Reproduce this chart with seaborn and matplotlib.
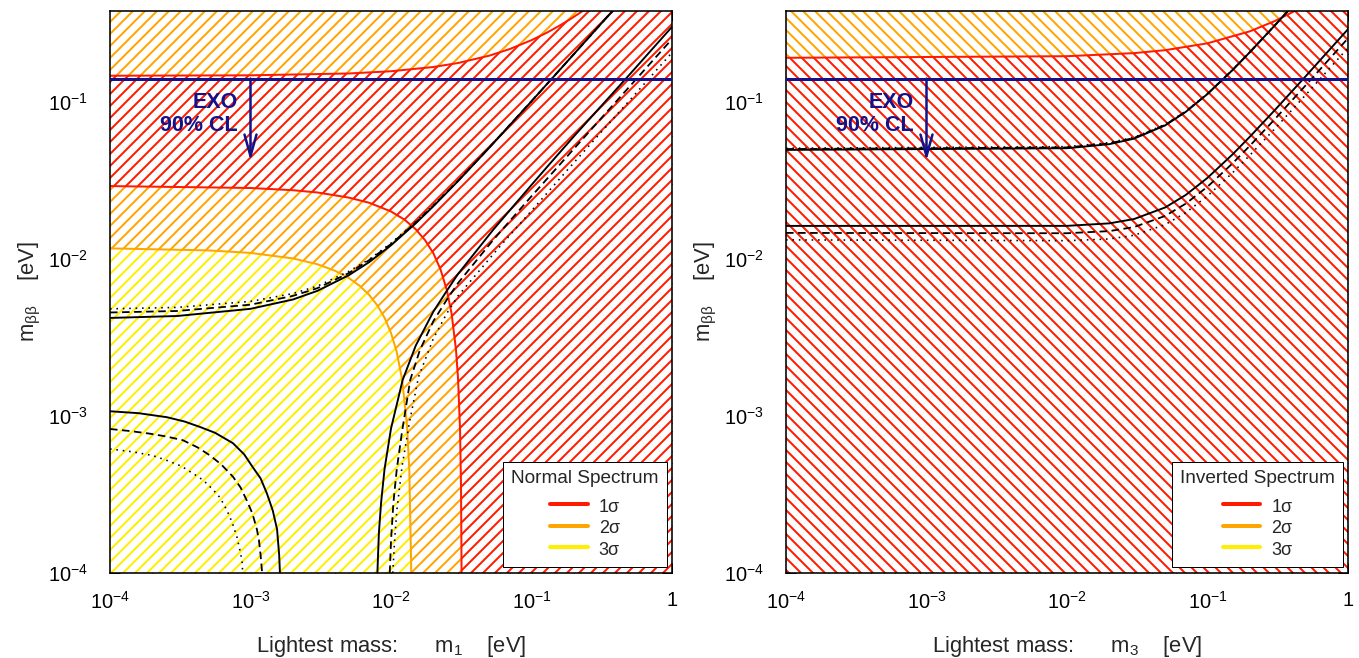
import matplotlib
matplotlib.use("Agg")
import matplotlib.pyplot as plt
from matplotlib.lines import Line2D
from matplotlib.ticker import NullFormatter
import seaborn as sns

# ---------------- data ----------------
x_range = [1e-4, 1.0]
y_range = [1e-4, 0.38]
x_ticks = [1e-4, 1e-3, 1e-2, 1e-1, 1.0]
x_tick_labels = [r"$10^{-4}$", r"$10^{-3}$", r"$10^{-2}$", r"$10^{-1}$", "1"]
y_ticks = [1e-4, 1e-3, 1e-2, 1e-1]
y_tick_labels = [r"$10^{-4}$", r"$10^{-3}$", r"$10^{-2}$", r"$10^{-1}$"]

exo_limit = 0.14
exo_arrow_x = 1e-3
exo_arrow_tip = 0.042
exo_text_x = 8.15e-4
exo_text_y = [0.0912, 0.0651]
exo_text = ["EXO", "90% CL"]

sigma_labels = ["1\u03c3", "2\u03c3", "3\u03c3"]

# Normal spectrum: confidence-region boundaries
ns_red_top_m = [1e-4, 1e-3, 5e-3, 0.01, 0.02, 0.03, 0.05, 0.07, 0.1, 0.13, 0.16, 0.19, 0.22, 0.24]
ns_red_top_y = [0.1461, 0.147, 0.151, 0.156, 0.166, 0.176, 0.196, 0.216, 0.246, 0.276, 0.306, 0.336, 0.366, 0.386]

ns_red_mid_m = [1e-4, 1e-3, 2e-3, 3e-3, 5e-3, 7e-3, 0.01, 0.0125, 0.015, 0.0175, 0.02, 0.0225,
                0.025, 0.027, 0.029, 0.030, 0.031, 0.0315, 0.03179]
ns_red_mid_y = [0.0290, 0.0282, 0.0273, 0.0264, 0.0245, 0.0227, 0.0200, 0.0177, 0.0154, 0.0131,
                0.01086, 0.00857, 0.00629, 0.00447, 0.00265, 0.00173, 0.00082, 0.00036, 0.0001]

ns_orange_m = [1e-4, 5e-4, 1e-3, 2e-3, 3e-3, 4e-3, 5e-3, 6e-3, 7e-3, 8e-3, 9e-3, 0.010,
               0.011, 0.012, 0.013, 0.0135, 0.0139, 0.01392]
ns_orange_y = [0.01164, 0.0113, 0.01089, 0.01005, 0.00922, 0.00838, 0.00755, 0.00671, 0.00588,
               0.00504, 0.00421, 0.00337, 0.00254, 0.0017, 0.00087, 0.00045, 0.00012, 0.0001]

# Normal spectrum: m_bb band edges (solid / dashed / dotted)
ns_up_m = [1e-4, 3e-4, 1e-3, 2e-3, 3e-3, 5e-3, 7e-3, 0.01, 0.015, 0.02, 0.03, 0.05, 0.1, 0.2, 0.5, 1.0]
ns_up_solid = [0.0042, 0.00432, 0.0048, 0.0055, 0.00625, 0.00785, 0.00952, 0.01218, 0.0168,
               0.02155, 0.0312, 0.0508, 0.1005, 0.2003, 0.5, 1.0]
ns_up_dashed = [0.00455, 0.00465, 0.0051, 0.0058, 0.0065, 0.0081, 0.0098, 0.0124, 0.0170,
                0.0217, 0.0313, 0.0510, 0.1006, 0.2003, 0.5, 1.0]
ns_up_dotted = [0.0048, 0.0049, 0.00535, 0.0060, 0.0067, 0.0083, 0.0099, 0.01256, 0.0172,
                0.0219, 0.0314, 0.0511, 0.1006, 0.2003, 0.5, 1.0]

ns_lowA_solid_m = [1e-4, 1.6e-4, 2.55e-4, 3.4e-4, 4.37e-4, 5.6e-4, 7.5e-4, 9e-4, 1.04e-3, 1.18e-3,
                   1.31e-3, 1.44e-3, 1.545e-3, 1.6e-3, 1.62e-3]
ns_lowA_solid_y = [0.00107, 0.00104, 0.00098, 0.00092, 0.00085, 0.00078, 0.00067, 0.00057, 0.00047,
                   0.0004, 0.00032, 0.00025, 0.00019, 0.00013, 0.0001]
ns_lowA_dashed_m = [1e-4, 1.4e-4, 1.93e-4, 2.5e-4, 3.3e-4, 4.2e-4, 5.15e-4, 6.2e-4, 7.5e-4, 8.5e-4,
                    9.4e-4, 1.03e-3, 1.11e-3, 1.15e-3, 1.18e-3, 1.21e-3]
ns_lowA_dashed_y = [0.000825, 0.0008, 0.00077, 0.00074, 0.0007, 0.00063, 0.00056, 0.00049, 0.00041,
                    0.00035, 0.00029, 0.00024, 0.00019, 0.00016, 0.00013, 0.0001]
ns_lowA_dotted_m = [1e-4, 1.46e-4, 2e-4, 2.55e-4, 3.2e-4, 3.9e-4, 4.6e-4, 5.4e-4, 6.1e-4, 6.8e-4,
                    7.4e-4, 8.0e-4, 8.4e-4, 8.7e-4, 8.8e-4]
ns_lowA_dotted_y = [0.000616, 0.00059, 0.00056, 0.00052, 0.00048, 0.00043, 0.00039, 0.00034, 0.0003,
                    0.00025, 0.00021, 0.00017, 0.00014, 0.00012, 0.0001]

ns_lowB_solid_m = [0.0080, 0.0082, 0.0085, 0.009, 0.010, 0.0121, 0.015, 0.020, 0.0251, 0.030,
                   0.0534, 0.1, 0.136, 0.2, 0.5, 1.0]
ns_lowB_solid_y = [1.0e-4, 1.8e-4, 2.8e-4, 4.6e-4, 8.3e-4, 0.00169, 0.0028, 0.0046, 0.0063, 0.0080,
                   0.0153, 0.0295, 0.0405, 0.060, 0.149, 0.299]
ns_lowB_dashed_m = [0.0098, 0.0100, 0.0104, 0.011, 0.012, 0.0137, 0.016, 0.020, 0.025, 0.030,
                    0.0535, 0.1, 0.2, 0.5, 1.0]
ns_lowB_dashed_y = [1.0e-4, 1.6e-4, 2.8e-4, 4.6e-4, 8.0e-4, 0.00169, 0.0026, 0.0040, 0.0055, 0.0070,
                    0.0132, 0.0250, 0.0500, 0.125, 0.25]
ns_lowB_dotted_m = [0.0103, 0.0106, 0.011, 0.012, 0.0135, 0.0157, 0.020, 0.025, 0.030, 0.0568,
                    0.1, 0.2, 0.5, 1.0]
ns_lowB_dotted_y = [1.0e-4, 1.6e-4, 2.5e-4, 4.8e-4, 9.0e-4, 0.00177, 0.0031, 0.0045, 0.0058, 0.0114,
                    0.0202, 0.0408, 0.102, 0.205]

# Inverted spectrum
ih_red_top_m = [1e-4, 0.01, 0.03, 0.05, 0.1, 0.2, 0.3, 0.4, 0.43]
ih_red_top_y = [0.19, 0.1945, 0.2035, 0.2125, 0.235, 0.28, 0.325, 0.37, 0.3835]

ih_m = [1e-4, 0.01, 0.02, 0.03, 0.05, 0.07, 0.1, 0.15, 0.2, 0.3, 0.4]
ih_up_solid = [0.04927, 0.0505, 0.0536, 0.0581, 0.0706, 0.086, 0.1118, 0.1581, 0.2062, 0.3041, 0.4031]
ih_up_dashed = [0.0499, 0.0511, 0.0542, 0.0587, 0.0711, 0.0864, 0.1121, 0.1583, 0.2063, 0.3042, 0.4031]
ih_up_dotted = [0.0505, 0.0517, 0.0548, 0.0592, 0.0716, 0.0868, 0.1124, 0.1585, 0.2064, 0.3043, 0.4031]

ih_low_m = [1e-4, 0.01, 0.02, 0.03, 0.05, 0.07, 0.1, 0.15, 0.2, 0.3, 0.5, 1.0]
ih_low_solid = [0.01618, 0.01619, 0.01679, 0.01789, 0.0212, 0.02545, 0.03272, 0.04594, 0.05972,
                0.08791, 0.14507, 0.2889]
ih_low_dashed = [0.0146, 0.01453, 0.01499, 0.0159, 0.01873, 0.02241, 0.02873, 0.04027, 0.0523,
                 0.07695, 0.12694, 0.2528]
ih_low_dotted = [0.01318, 0.01303, 0.01336, 0.0141, 0.01649, 0.01964, 0.02509, 0.03508, 0.04553,
                 0.06693, 0.11037, 0.2197]

# ---------------- style ----------------
RED = "#ff1a00"
ORANGE = "#ffa500"
YELLOW = "#fff000"
NAVY = "#12128a"

sns.set_theme(style="ticks")
plt.rcParams.update({
    "font.family": ["Liberation Sans", "DejaVu Sans"],
    "mathtext.fontset": "custom",
    "mathtext.rm": "Liberation Sans",
    "mathtext.it": "Liberation Sans:italic",
    "mathtext.bf": "Liberation Sans:bold",
    "mathtext.default": "regular",
    "hatch.linewidth": 2.0,
    "axes.linewidth": 1.6,
    "axes.edgecolor": "black",
    "axes.facecolor": "white",
    "xtick.color": "black", "ytick.color": "black",
    "xtick.direction": "in", "ytick.direction": "in",
    "xtick.top": True, "ytick.right": True,
    "xtick.major.size": 10, "ytick.major.size": 10,
    "xtick.minor.size": 5, "ytick.minor.size": 5,
    "xtick.major.width": 1.0, "ytick.major.width": 1.0,
    "xtick.minor.width": 1.0, "ytick.minor.width": 1.0,
    "xtick.labelsize": 20, "ytick.labelsize": 20,
})

W, H, DPI = 1359, 658, 72
fig = plt.figure(figsize=(W / DPI, H / DPI), dpi=DPI)
ax_l = fig.add_axes([110 / W, (H - 573) / H, 562 / W, 562.5 / H])
ax_r = fig.add_axes([786 / W, (H - 573) / H, 562 / W, 562.5 / H])


def hatch_region(ax, xs, ys, color, hatch):
    ax.fill(xs, ys, facecolor="white", edgecolor=color, hatch=hatch, linewidth=0, zorder=1)


def curve(ax, xs, ys, color, ls="-", lw=2.0, z=3):
    sns.lineplot(x=xs, y=ys, ax=ax, color=color, linestyle=ls, linewidth=lw,
                 sort=False, estimator=None, zorder=z, legend=False)


DASH = (0, (4.2, 2.5))
DOT = (0, (1.0, 3.0))

x0, x1 = x_range
y0, y1 = y_range

# ---- Normal spectrum ----
ax = ax_l
ax.set_xscale("log")
ax.set_yscale("log")
hatch_region(ax, [x0, x1, x1, x0], [y0, y0, y1, y1], RED, "//")
hatch_region(ax, ns_red_mid_m + [x0], ns_red_mid_y + [y0], ORANGE, "//")
hatch_region(ax, ns_orange_m + [x0], ns_orange_y + [y0], YELLOW, "//")
hatch_region(ax, ns_red_top_m + [x0], ns_red_top_y + [1.0], ORANGE, "//")
curve(ax, ns_red_top_m, ns_red_top_y, RED, z=2)
curve(ax, ns_red_mid_m, ns_red_mid_y, RED, z=2)
curve(ax, ns_orange_m, ns_orange_y, ORANGE, z=2)

curve(ax, ns_up_m, ns_up_solid, "black", lw=1.9)
curve(ax, ns_up_m, ns_up_dashed, "black", ls=DASH, lw=1.8)
curve(ax, ns_up_m, ns_up_dotted, "black", ls=DOT, lw=1.6)
curve(ax, ns_lowA_solid_m, ns_lowA_solid_y, "black", lw=1.9)
curve(ax, ns_lowA_dashed_m, ns_lowA_dashed_y, "black", ls=DASH, lw=1.8)
curve(ax, ns_lowA_dotted_m, ns_lowA_dotted_y, "black", ls=DOT, lw=1.6)
curve(ax, ns_lowB_solid_m, ns_lowB_solid_y, "black", lw=1.9)
curve(ax, ns_lowB_dashed_m, ns_lowB_dashed_y, "black", ls=DASH, lw=1.8)
curve(ax, ns_lowB_dotted_m, ns_lowB_dotted_y, "black", ls=DOT, lw=1.6)

# ---- Inverted spectrum ----
ax = ax_r
ax.set_xscale("log")
ax.set_yscale("log")
hatch_region(ax, [x0, x1, x1, x0], [y0, y0, y1, y1], RED, "\\\\")
hatch_region(ax, ih_red_top_m + [x0], ih_red_top_y + [1.0], ORANGE, "\\\\")
curve(ax, ih_red_top_m, ih_red_top_y, RED, z=2)

curve(ax, ih_m, ih_up_solid, "black", lw=1.9)
curve(ax, ih_m, ih_up_dashed, "black", ls=DASH, lw=1.8)
curve(ax, ih_m, ih_up_dotted, "black", ls=DOT, lw=1.6)
curve(ax, ih_low_m, ih_low_solid, "black", lw=1.9)
curve(ax, ih_low_m, ih_low_dashed, "black", ls=DASH, lw=1.8)
curve(ax, ih_low_m, ih_low_dotted, "black", ls=DOT, lw=1.6)

# ---- shared decorations ----
for ax, title, sub in [(ax_l, "Normal Spectrum", "1"), (ax_r, "Inverted Spectrum", "3")]:
    ax.set_xlim(x0, x1)
    ax.set_ylim(y0, y1)
    ax.set_xticks(x_ticks, labels=x_tick_labels)
    ax.set_yticks(y_ticks, labels=y_tick_labels)
    ax.xaxis.set_minor_formatter(NullFormatter())
    ax.yaxis.set_minor_formatter(NullFormatter())
    ax.tick_params(axis="x", which="major", pad=18)
    ax.tick_params(axis="y", which="major", pad=22)

    ax.axhline(exo_limit, color=NAVY, lw=3, zorder=5)
    ax.annotate("", xy=(exo_arrow_x, exo_arrow_tip), xytext=(exo_arrow_x, exo_limit),
                arrowprops=dict(arrowstyle="->,head_length=0.9,head_width=0.25", color=NAVY,
                                lw=2.5, shrinkA=0, shrinkB=0, mutation_scale=24), zorder=5)
    for txt, ty in zip(exo_text, exo_text_y):
        ax.text(exo_text_x, ty, txt, ha="right", va="baseline", fontsize=21.5,
                fontweight="bold", color=NAVY, zorder=6)

    ax.set_xlabel("Lightest mass:      $\\mathrm{m}_{" + sub + "}$    [eV]", fontsize=22)
    ax.xaxis.set_label_coords(0.5, -0.108)
    ax.set_ylabel("$\\mathrm{m}_{\\mathrm{\u03b2\u03b2}}$    [eV]", fontsize=22)
    ax.yaxis.set_label_coords(-0.12, 0.5)

    handles = [Line2D([], [], color=c, lw=4) for c in (RED, ORANGE, YELLOW)]
    leg = ax.legend(handles, sigma_labels, title=title, loc="lower right",
                    bbox_to_anchor=(0.991, 0.0107), borderaxespad=0, fontsize=18,
                    title_fontsize=19, frameon=True, fancybox=False, framealpha=1,
                    edgecolor="black", handlelength=2.1, handletextpad=0.6,
                    handleheight=1.2, labelspacing=0.12, borderpad=0.45)
    # extra room between the title and the entries
    if hasattr(leg, "_legend_box"):
        leg._legend_box.sep = 10
    leg.get_frame().set_linewidth(1.0)
    leg.set_zorder(10)

fig.savefig("out.png", dpi=DPI)
